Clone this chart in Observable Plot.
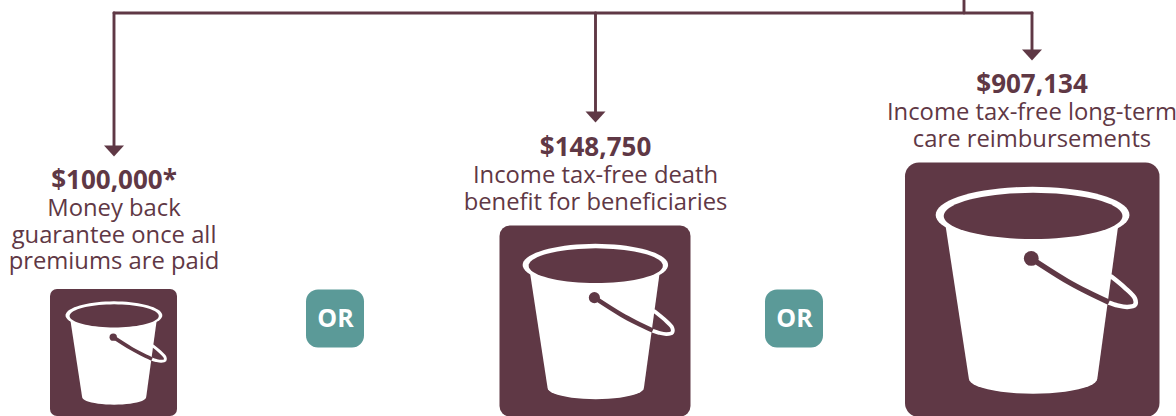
<!DOCTYPE html>
<html>
<head>
<meta charset="utf-8">
<script src="https://cdn.jsdelivr.net/npm/d3@7"></script>
<script src="https://cdn.jsdelivr.net/npm/@observablehq/plot@0.6"></script>
<style>html,body{margin:0;padding:0;background:#fff;overflow:hidden}svg{display:block}</style>
</head>
<body>
<script>
const amounts = ["$100,000*", "$148,750", "$907,134"];
const captions = [
  ["Money back", "guarantee once all", "premiums are paid"],
  ["Income tax-free death", "benefit for beneficiaries"],
  ["Income tax-free long-term", "care reimbursements"]
];
const joiner = "OR";

const W = 1176, H = 416;
const plum = "#5f3845", teal = "#5b9a98";
const textFont = "'Open Sans', sans-serif";

// layout: square, arrow, text anchor, handle weights
const layout = [
  {x: 50, y: 289, s: 127, ax: 113.5, tip: 156, tx: 113.5, ty: 188, capY: 189, loopW: 3, frontW: 3.6},
  {x: 499.5, y: 225.5, s: 191, ax: 595, tip: 122, tx: 595, ty: 155, capY: 156, loopW: 3.8, frontW: 4.5},
  {x: 905, y: 162.5, s: 254.5, ax: 1031.5, tip: 60, tx: 1031.5, ty: 92, capY: 93, loopW: 4.5, frontW: 5.4}
];
const orBoxes = [{x: 306, y: 289.5, s: 58}, {x: 765, y: 289.5, s: 58}];
const lineGap = 26.5;

// bucket artwork in 0..1 units of its square
const toUnit = (zx, zy) => [(zx - 15) / 763, (zy - 8) / 760];
const ellipse = (cx, cy, rx, ry) => d3.range(0, 73).map(i => {
  const a = i / 72 * 2 * Math.PI;
  return toUnit(cx + rx * Math.cos(a), cy + ry * Math.sin(a));
});
const bottomArc = d3.range(0, 25).map(i => {
  const a = Math.PI - i / 24 * Math.PI;
  return toUnit(397.5 + 192.5 * Math.cos(a), 652 + 45 * Math.sin(a));
});
const bodyPts = [toUnit(135, 195), ...bottomArc, toUnit(652, 200)];
const rimOuter = ellipse(396, 163, 290.5, 84);
const rimInner = ellipse(397.5, 166, 268, 69);
const loopPts = [[632, 347], [672, 380], [703, 413], [703, 432], [680, 438], [650, 433], [622, 424]].map(p => toUnit(...p));
const frontPts = [[392, 293], [500, 361], [560, 393], [625, 424]].map(p => toUnit(...p));
const knob = toUnit(392, 293);

const place = (b, pts) => pts.map(([u, v]) => ({px: b.x + u * b.s, py: b.y + v * b.s}));

const marks = [];

// connector lines
const connectors = [
  [{px: 113.5, py: 12.5}, {px: 1031.5, py: 12.5}],
  [{px: 963.5, py: 0}, {px: 963.5, py: 12.5}],
  ...layout.map(b => [{px: b.ax, py: 12.5}, {px: b.ax, py: b.tip - 10}])
];
for (const c of connectors) marks.push(Plot.line(c, {x: "px", y: "py", stroke: plum, strokeWidth: 2.9}));
for (const b of layout) {
  marks.push(Plot.line([{px: b.ax - 10, py: b.tip - 11}, {px: b.ax + 10, py: b.tip - 11}, {px: b.ax, py: b.tip}, {px: b.ax - 10, py: b.tip - 11}],
    {x: "px", y: "py", fill: plum, stroke: "none"}));
}

layout.forEach((b, i) => {
  const k = b.s / 254;
  marks.push(Plot.rect([b], {x1: "x", x2: d => d.x + d.s, y1: "y", y2: d => d.y + d.s, fill: plum, rx: b.s * 0.055}));
  marks.push(Plot.line(place(b, loopPts), {x: "px", y: "py", stroke: "#fff", strokeWidth: b.loopW, curve: "catmull-rom", strokeLinecap: "round"}));
  marks.push(Plot.line(place(b, bodyPts), {x: "px", y: "py", fill: "#fff", stroke: "none", curve: "linear"}));
  marks.push(Plot.line(place(b, rimOuter), {x: "px", y: "py", fill: "#fff", stroke: "none"}));
  marks.push(Plot.line(place(b, rimInner), {x: "px", y: "py", fill: plum, stroke: "none"}));
  marks.push(Plot.line(place(b, frontPts), {x: "px", y: "py", stroke: plum, strokeWidth: b.frontW, curve: "catmull-rom", strokeLinecap: "butt"}));
  marks.push(Plot.dot(place(b, [knob]), {x: "px", y: "py", r: 7.4 * k, fill: plum, stroke: "none"}));
  marks.push(Plot.text([amounts[i]], {x: () => b.tx, y: () => b.ty, text: d => d, fontFamily: textFont, fontWeight: 700, fontSize: 26, fill: plum, textAnchor: "middle", lineAnchor: "bottom"}));
  marks.push(Plot.text(captions[i], {x: () => b.tx, y: (d, j) => b.capY + lineGap * (j + 1), text: d => d, fontFamily: textFont, fontSize: 23.8, fill: plum, textAnchor: "middle", lineAnchor: "bottom"}));
});

marks.push(Plot.rect(orBoxes, {x1: "x", x2: d => d.x + d.s, y1: "y", y2: d => d.y + d.s, fill: teal, rx: 12}));
marks.push(Plot.text(orBoxes, {x: d => d.x + d.s / 2, y: d => d.y + d.s / 2, text: () => joiner, fontFamily: textFont, fontWeight: 700, fontSize: 25, fill: "#fff", textAnchor: "middle"}));

const chart = Plot.plot({
  width: W, height: H, margin: 0,
  x: {domain: [0, W], range: [0, W], axis: null},
  y: {domain: [0, H], range: [0, H], axis: null},
  style: {background: "#fff"},
  marks
});
document.body.appendChild(chart);
</script>
</body>
</html>
